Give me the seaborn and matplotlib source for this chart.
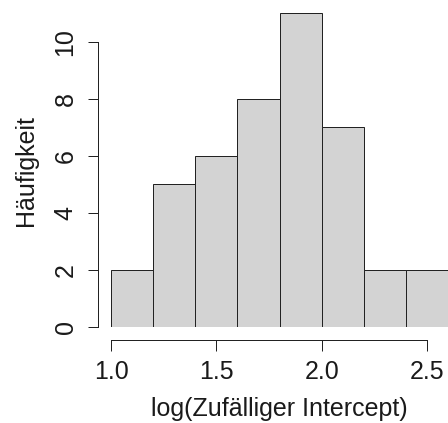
import matplotlib
matplotlib.use("Agg")
import matplotlib.pyplot as plt
import seaborn as sns
import numpy as np
import pandas as pd

# Histogram of log random intercepts (bin edges and counts per bin)
bin_edges = [1.0, 1.2, 1.4, 1.6, 1.8, 2.0, 2.2, 2.4, 2.6]
counts = [2, 5, 6, 8, 11, 7, 2, 2]
x_ticks = [1.0, 1.5, 2.0, 2.5]
x_tick_labels = ["1.0", "1.5", "2.0", "2.5"]
y_ticks = [0, 2, 4, 6, 8, 10]

sns.set_style("white")
plt.rcParams["font.family"] = ["Liberation Sans", "DejaVu Sans"]

mids = [(a + b) / 2 for a, b in zip(bin_edges[:-1], bin_edges[1:])]
df = pd.DataFrame({"value": mids, "n": counts})

W, H = 448, 423
PX = 0.72  # points per pixel at 100 dpi
fig = plt.figure(figsize=(W / 100, H / 100), dpi=100)
ax = fig.add_axes([111 / W, (H - 327) / H, (448 - 111) / W, (327 - 13.5) / H])

sns.histplot(data=df, x="value", weights="n", bins=bin_edges, ax=ax,
             color="#d3d3d3", edgecolor="#222222", linewidth=1.0 * PX, alpha=1.0)

ax.set_xlim(1.0, 2.6)
ax.set_ylim(0, 11)

for s in ["top", "right"]:
    ax.spines[s].set_visible(False)
for s in ["left", "bottom"]:
    ax.spines[s].set_position(("outward", 13 * PX))
    ax.spines[s].set_color("#222222")
    ax.spines[s].set_linewidth(1.0 * PX)
ax.spines["left"].set_bounds(0, 10)
ax.spines["bottom"].set_bounds(1.0, 2.5)

ax.set_xticks(x_ticks)
ax.set_xticklabels(x_tick_labels)
ax.set_yticks(y_ticks)
ax.set_yticklabels([str(v) for v in y_ticks], rotation=90, va="center")
ax.tick_params(axis="both", which="major", bottom=True, left=True,
               direction="out", length=10.5 * PX, width=1.0 * PX,
               color="#222222", labelsize=18, labelcolor="#1a1a1a")
ax.tick_params(axis="x", pad=9 * PX)
ax.tick_params(axis="y", pad=10 * PX)

ax.set_xlabel("log(Zufälliger Intercept)", fontsize=18, color="#1a1a1a",
              labelpad=13.5 * PX)
ax.set_ylabel("Häufigkeit", fontsize=18, color="#1a1a1a", labelpad=16 * PX)
ax.grid(False)

fig.savefig("out.png", dpi=100)
